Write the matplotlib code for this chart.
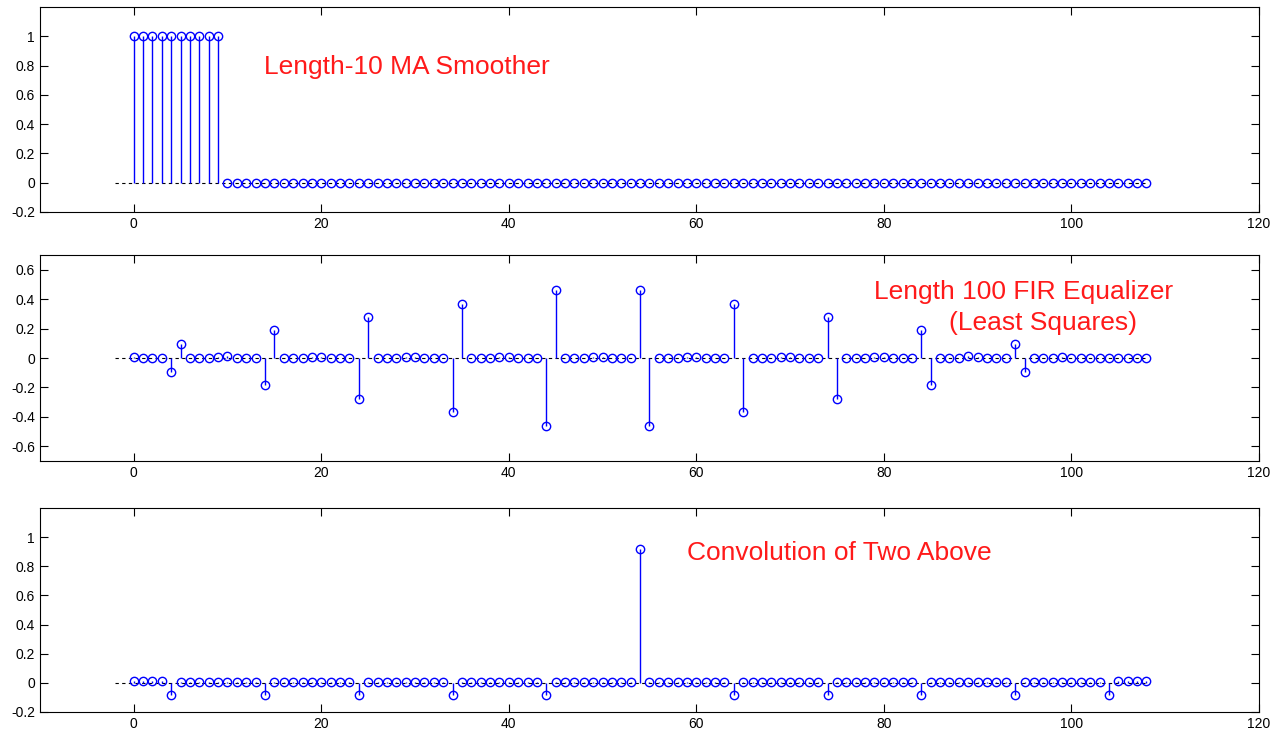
import matplotlib
matplotlib.use('Agg')
import matplotlib.pyplot as plt
import numpy as np
from matplotlib.ticker import FormatStrFormatter, MultipleLocator

plt.rcParams['font.family'] = ['Liberation Sans', 'DejaVu Sans']

n = np.arange(109)

# length-10 moving average smoother (zero padded)
ma = [1, 1, 1, 1, 1, 1, 1, 1, 1, 1,
      0, 0, 0, 0, 0, 0, 0, 0, 0, 0,
      0, 0, 0, 0, 0, 0, 0, 0, 0, 0,
      0, 0, 0, 0, 0, 0, 0, 0, 0, 0,
      0, 0, 0, 0, 0, 0, 0, 0, 0, 0,
      0, 0, 0, 0, 0, 0, 0, 0, 0, 0,
      0, 0, 0, 0, 0, 0, 0, 0, 0, 0,
      0, 0, 0, 0, 0, 0, 0, 0, 0, 0,
      0, 0, 0, 0, 0, 0, 0, 0, 0, 0,
      0, 0, 0, 0, 0, 0, 0, 0, 0, 0,
      0, 0, 0, 0, 0, 0, 0, 0, 0]

# length 100 FIR equalizer (least squares)
eq = [0.01, 0, 0, 0, -0.096, 0.094, 0, 0, 0, 0.005,
      0.012, 0, 0, 0, -0.185, 0.187, 0, 0, 0, 0.006,
      0.006, 0, 0, 0, -0.277, 0.276, 0, 0, 0, 0.006,
      0.005, 0, 0, 0, -0.37, 0.37, 0, 0, 0, 0.006,
      0.004, 0, 0, 0, -0.46, 0.459, 0, 0, 0, 0.004,
      0.004, 0, 0, 0, 0.459, -0.46, 0, 0, 0, 0.004,
      0.004, 0, 0, 0, 0.37, -0.37, 0, 0, 0, 0.005,
      0.005, 0, 0, 0, 0.276, -0.277, 0, 0, 0, 0.006,
      0.006, 0, 0, 0, 0.187, -0.185, 0, 0, 0, 0.012,
      0.005, 0, 0, 0, 0.094, -0.096, 0, 0, 0, 0.01,
      0, 0, 0, 0, 0, 0, 0, 0, 0]

# convolution of the two
conv = [0.01, 0.01, 0.01, 0.01, -0.082, 0.008, 0.008, 0.008, 0.008, 0.008,
        0.008, 0.008, 0.008, 0.008, -0.082, 0.008, 0.008, 0.008, 0.008, 0.008,
        0.008, 0.008, 0.008, 0.008, -0.082, 0.008, 0.008, 0.008, 0.008, 0.008,
        0.008, 0.008, 0.008, 0.008, -0.082, 0.008, 0.008, 0.008, 0.008, 0.008,
        0.008, 0.008, 0.008, 0.008, -0.082, 0.008, 0.008, 0.008, 0.008, 0.008,
        0.008, 0.008, 0.008, 0.008, 0.918, 0.008, 0.008, 0.008, 0.008, 0.008,
        0.008, 0.008, 0.008, 0.008, -0.082, 0.008, 0.008, 0.008, 0.008, 0.008,
        0.008, 0.008, 0.008, 0.008, -0.082, 0.008, 0.008, 0.008, 0.008, 0.008,
        0.008, 0.008, 0.008, 0.008, -0.082, 0.008, 0.008, 0.008, 0.008, 0.008,
        0.008, 0.008, 0.008, 0.008, -0.082, 0.008, 0.008, 0.008, 0.008, 0.008,
        0.008, 0.008, 0.008, 0.008, -0.082, 0.01, 0.01, 0.01, 0.01]

series = [ma, eq, conv]
ylims = [(-0.2, 1.2), (-0.7, 0.7), (-0.2, 1.2)]
yticks = [[-0.2, 0, 0.2, 0.4, 0.6, 0.8, 1],
          [-0.6, -0.4, -0.2, 0, 0.2, 0.4, 0.6],
          [-0.2, 0, 0.2, 0.4, 0.6, 0.8, 1]]
rects = [[0.0311, 0.7112, 0.9486, 0.2793],
         [0.0311, 0.3719, 0.9486, 0.2807],
         [0.0311, 0.0300, 0.9486, 0.2780]]

fig = plt.figure(figsize=(12.85, 7.34), dpi=100)
axes = []
for rect, y, yl, yt in zip(rects, series, ylims, yticks):
    ax = fig.add_axes(rect)
    ax.plot([-2, 108], [0, 0], color='black', ls=(0, (3, 3)), lw=0.8, zorder=1)
    ml, sl, bl = ax.stem(n, y, linefmt='-', markerfmt='o', basefmt=' ')
    sl.set_color('#0000ff')
    sl.set_linewidth(1.0)
    ml.set_markerfacecolor('none')
    ml.set_markeredgecolor('#0000ff')
    ml.set_markersize(6)
    ml.set_markeredgewidth(1.0)
    ax.set_xlim(-10, 120)
    ax.set_ylim(*yl)
    ax.xaxis.set_major_locator(MultipleLocator(20))
    ax.set_yticks(yt)
    ax.yaxis.set_major_formatter(FormatStrFormatter('%g'))
    ax.tick_params(direction='in', top=True, right=True, length=6,
                   labelsize=10, width=0.8)
    for s in ax.spines.values():
        s.set_linewidth(0.8)
    axes.append(ax)

red = '#ff1a1a'
axes[0].text(13.9, 0.79, 'Length-10 MA Smoother', color=red,
             fontsize=19, va='center', ha='left')
axes[1].text(79.0, 0.45, 'Length 100 FIR Equalizer', color=red,
             fontsize=19, va='center', ha='left')
axes[1].text(87.0, 0.24, '(Least Squares)', color=red,
             fontsize=19, va='center', ha='left')
axes[2].text(59.0, 0.89, 'Convolution of Two Above', color=red,
             fontsize=19, va='center', ha='left')

fig.savefig('out.png', dpi=100)
